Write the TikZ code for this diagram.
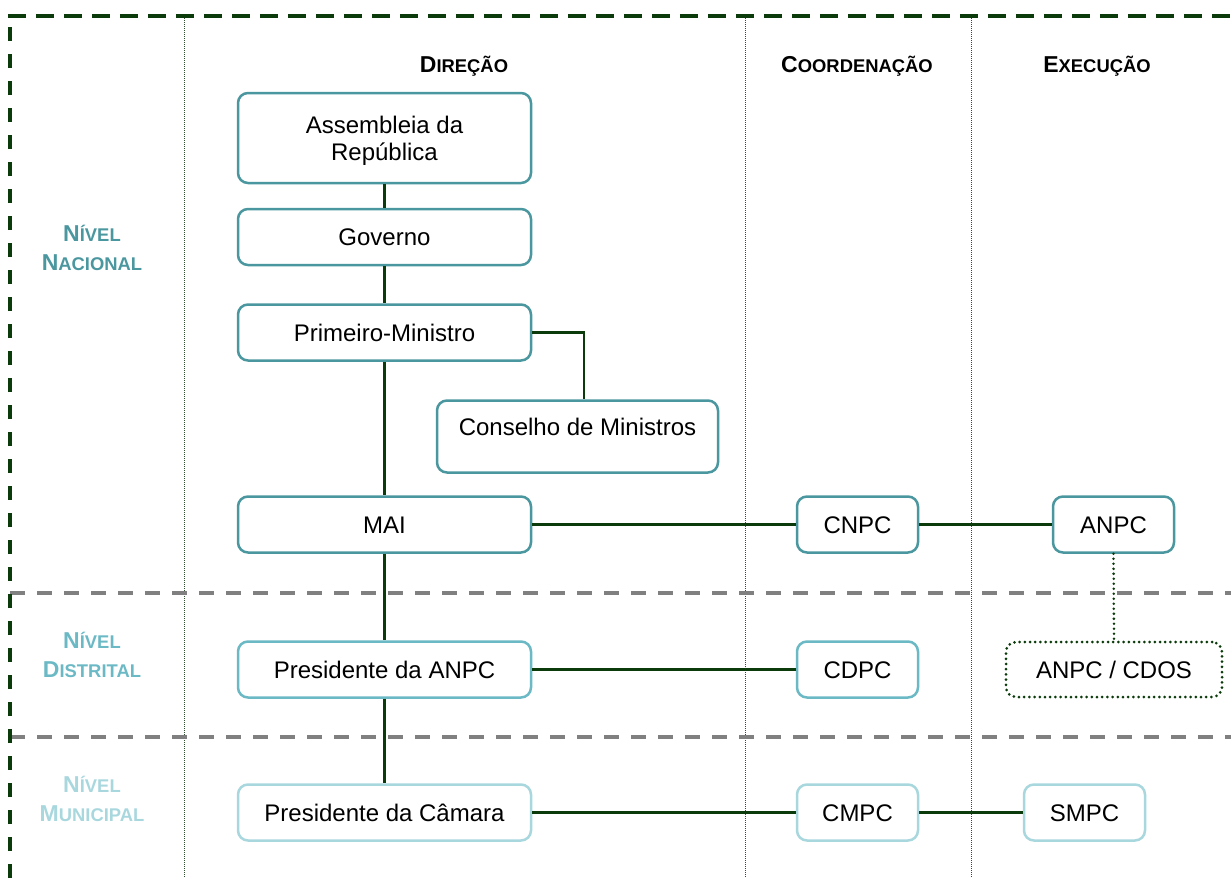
\documentclass[tikz,border=0pt]{standalone}
\usepackage{fontspec}
\setmainfont{Liberation Sans}
\definecolor{tealA}{HTML}{4B979F}
\definecolor{tealB}{HTML}{6BB9C5}
\definecolor{tealC}{HTML}{A8D7DE}
\definecolor{dgreen}{HTML}{0B3B0B}
\definecolor{gridgray}{HTML}{808080}
\newcommand\boxfont{\fontsize{24}{27}\selectfont}
\newcommand\capsc[2]{{\fontsize{23}{27}\selectfont #1}{\fontsize{18.4}{27}\selectfont #2}}
\tikzset{
  box/.style={draw, rounded corners=10pt, line width=2.5pt, fill=white, inner sep=0pt,
    align=center, font=\boxfont, text height=17.5pt, text depth=0pt},
  lvA/.style={box, draw=tealA},
  lvB/.style={box, draw=tealB},
  lvC/.style={box, draw=tealC},
  conn/.style={draw=dgreen, line width=2.5pt},
  dotconn/.style={draw=dgreen, line width=2.8pt, line cap=round, dash pattern=on 0pt off 5pt},
  hdr/.style={font=\fontsize{23}{29}\selectfont\bfseries, inner sep=0pt, text height=16.5pt, text depth=0pt},
  lvl/.style={font=\fontsize{23}{29}\selectfont\bfseries, inner sep=0pt, align=center, text height=45.5pt, text depth=0pt},
  colline/.style={draw=dgreen!70!gray, line width=0.8pt, dash pattern=on 1pt off 1pt},
  rowline/.style={draw=gridgray, line width=3.3pt, dash pattern=on 15pt off 12pt},
}
\begin{document}
\begin{tikzpicture}[x=1pt, y=-1pt]
\useasboundingbox (0,0) rectangle (1231,878);
% column separators
\draw[colline] (184,16) -- (184,878);
\draw[colline] (745,16) -- (745,878);
\draw[colline] (971,16) -- (971,878);
% row separators
\draw[rowline] (10,593) -- (1231,593);
\draw[rowline] (10,737) -- (1231,737);
% outer border
\draw[draw=dgreen, line width=4pt, dash pattern=on 14pt off 13pt] (10,878) -- (10,16);
\draw[draw=dgreen, line width=4pt, dash pattern=on 18pt off 10pt] (8,16) -- (1231,16);

% headers
\node[hdr] (hdir) at (464,64) {\capsc{D}{IREÇÃO}};
\node[hdr] (hcoo) at (857,64) {\capsc{C}{OORDENAÇÃO}};
\node[hdr] (hexe) at (1097,64) {\capsc{E}{XECUÇÃO}};

% level labels
\node[lvl, text=tealA] (lnac) at (92,247.5) {\capsc{N}{ÍVEL}\\\capsc{N}{ACIONAL}};
\node[lvl, text=tealB] (ldis) at (92,654.5) {\capsc{N}{ÍVEL}\\\capsc{D}{ISTRITAL}};
\node[lvl, text=tealC] (lmun) at (92,798.5) {\capsc{N}{ÍVEL}\\\capsc{M}{UNICIPAL}};

% boxes
\node[lvA, minimum width=293pt, minimum height=90pt, text height=44.5pt, text depth=0pt] (asm) at (384.5,138) {Assembleia da\\República};
\node[lvA, minimum width=293pt, minimum height=56pt] (gov) at (384.5,237) {Governo};
\node[lvA, minimum width=293pt, minimum height=56pt] (pm) at (384.5,332.5) {Primeiro-Ministro};
\node[lvA, minimum width=281pt, minimum height=72pt, text depth=20pt] (cm) at (577.5,436.5) {Conselho de Ministros};
\node[lvA, minimum width=293pt, minimum height=56pt] (mai) at (384.5,524.5) {MAI};
\node[lvA, minimum width=121pt, minimum height=56pt] (cnpc) at (857.5,524.5) {CNPC};
\node[lvA, minimum width=121pt, minimum height=56pt] (anpc) at (1113.5,524.5) {ANPC};

\node[lvB, minimum width=293pt, minimum height=56pt] (pa) at (384.5,669.5) {Presidente da ANPC};
\node[lvB, minimum width=121pt, minimum height=56pt] (cdpc) at (857.5,669.5) {CDPC};
\node[box, draw=dgreen, line width=3pt, line cap=round, dash pattern=on 0pt off 5.2pt, minimum width=216pt, minimum height=55pt] (cdos) at (1114,669.5) {ANPC / CDOS};

\node[lvC, minimum width=293pt, minimum height=56pt] (pc) at (384.5,812.5) {Presidente da Câmara};
\node[lvC, minimum width=121pt, minimum height=56pt] (cmpc) at (857.5,812.5) {CMPC};
\node[lvC, minimum width=121pt, minimum height=56pt] (smpc) at (1084.5,812.5) {SMPC};

% connectors
\draw[conn] (asm.south) -- (gov.north);
\draw[conn] (gov.south) -- (pm.north);
\draw[conn] (pm.south) -- (mai.north);
\draw[conn] (mai.south) -- (pa.north);
\draw[conn] (pa.south) -- (pc.north);
\draw[conn] (pm.east) -| ([xshift=6.5pt]cm.north);
\draw[conn] (mai.east) -- (cnpc.west);
\draw[conn] (cnpc.east) -- (anpc.west);
\draw[dotconn] (anpc.south) -- (cdos.north);
\draw[conn] (pa.east) -- (cdpc.west);
\draw[conn] (pc.east) -- (cmpc.west);
\draw[conn] (cmpc.east) -- (smpc.west);
\end{tikzpicture}
\end{document}
